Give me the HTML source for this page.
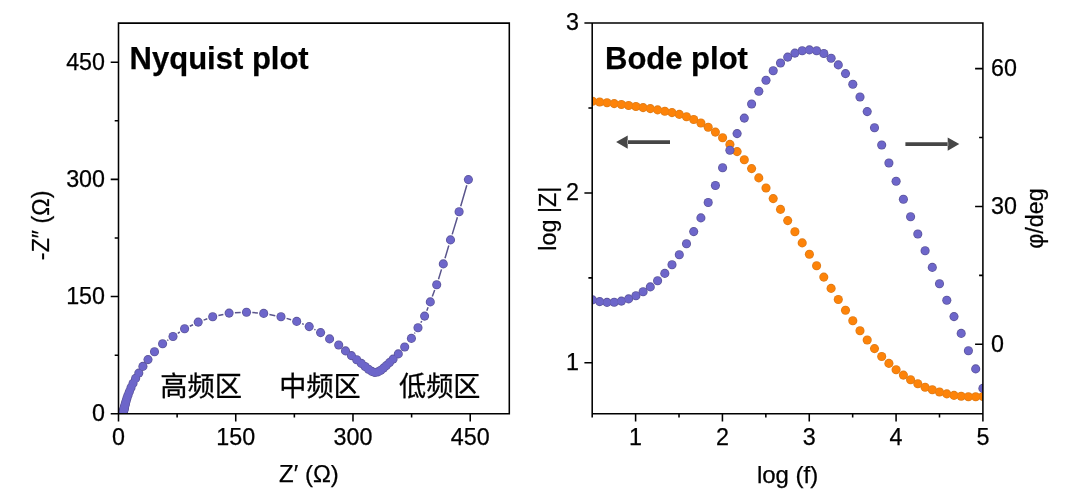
<!DOCTYPE html>
<html lang="zh"><head><meta charset="utf-8"><title>Nyquist plot / Bode plot</title>
<style>
html,body{margin:0;padding:0;background:#fff;}
body{width:1080px;height:496px;position:relative;overflow:hidden;font-family:"Liberation Sans",sans-serif;}
</style></head><body>
<svg width="1080" height="496" viewBox="0 0 1080 496" style="position:absolute;left:0;top:0;will-change:transform;filter:blur(0.35px)"><defs><clipPath id="cl"><rect x="118.5" y="23.1" width="390.8" height="390.7"/></clipPath><clipPath id="cr"><rect x="592.2" y="23.0" width="390.69999999999993" height="390.8"/></clipPath></defs><g clip-path="url(#cl)"><path d="M466.8 185.2L460.7 206.2M457.4 217.3L452.2 234.4M448.8 245.5L445.0 258.3M441.5 269.4L438.5 279.2M434.7 290.1L432.3 296.5M428.1 307.3L426.8 310.7M421.8 321.2L420.8 322.7M414.9 332.7L414.5 333.5M315.5 329.9L314.3 329.3M303.8 324.4L302.1 323.6M291.1 319.8L286.6 318.4M275.3 315.7L269.4 314.5M257.9 313.0L252.3 312.6M240.7 312.5L234.9 312.8M223.4 314.4L218.4 315.5M207.3 318.8L203.6 320.1M193.0 324.7L189.8 326.2M179.8 332.0L177.8 333.3M168.3 339.8L167.3 340.5" stroke="#5a558c" stroke-width="1.5" fill="none"/><g fill="#5d569c"><circle cx="468.4" cy="179.6" r="4.55"/><circle cx="459.1" cy="211.8" r="4.55"/><circle cx="450.5" cy="239.9" r="4.55"/><circle cx="443.3" cy="263.9" r="4.55"/><circle cx="436.7" cy="284.7" r="4.55"/><circle cx="430.3" cy="301.9" r="4.55"/><circle cx="424.6" cy="316.1" r="4.55"/><circle cx="418.0" cy="327.8" r="4.55"/><circle cx="411.4" cy="338.4" r="4.55"/><circle cx="404.7" cy="347.0" r="4.55"/><circle cx="398.3" cy="353.9" r="4.55"/><circle cx="393.1" cy="359.1" r="4.55"/><circle cx="389.5" cy="362.6" r="4.55"/><circle cx="386.3" cy="365.6" r="4.55"/><circle cx="383.5" cy="368.1" r="4.55"/><circle cx="380.8" cy="370.2" r="4.55"/><circle cx="378.0" cy="371.9" r="4.55"/><circle cx="374.9" cy="372.5" r="4.55"/><circle cx="371.8" cy="371.4" r="4.55"/><circle cx="368.5" cy="369.2" r="4.55"/><circle cx="365.1" cy="366.5" r="4.55"/><circle cx="361.3" cy="363.4" r="4.55"/><circle cx="356.7" cy="359.8" r="4.55"/><circle cx="351.4" cy="355.6" r="4.55"/><circle cx="345.5" cy="350.9" r="4.55"/><circle cx="338.7" cy="345.0" r="4.55"/><circle cx="329.6" cy="338.9" r="4.55"/><circle cx="320.6" cy="332.6" r="4.55"/><circle cx="309.2" cy="326.6" r="4.55"/><circle cx="296.7" cy="321.4" r="4.55"/><circle cx="281.0" cy="316.8" r="4.55"/><circle cx="263.7" cy="313.4" r="4.55"/><circle cx="246.5" cy="312.2" r="4.55"/><circle cx="229.1" cy="313.1" r="4.55"/><circle cx="212.7" cy="316.8" r="4.55"/><circle cx="198.2" cy="322.1" r="4.55"/><circle cx="184.6" cy="328.8" r="4.55"/><circle cx="173.0" cy="336.5" r="4.55"/><circle cx="162.6" cy="343.8" r="4.55"/><circle cx="154.5" cy="351.8" r="4.55"/><circle cx="148.0" cy="359.6" r="4.55"/><circle cx="142.9" cy="366.4" r="4.55"/><circle cx="138.8" cy="373.1" r="4.55"/><circle cx="135.6" cy="378.4" r="4.55"/><circle cx="133.0" cy="383.4" r="4.55"/><circle cx="131.0" cy="387.7" r="4.55"/><circle cx="129.4" cy="391.6" r="4.55"/><circle cx="128.1" cy="394.9" r="4.55"/><circle cx="127.1" cy="397.7" r="4.55"/><circle cx="126.4" cy="400.1" r="4.55"/><circle cx="125.7" cy="402.2" r="4.55"/><circle cx="125.3" cy="404.0" r="4.55"/><circle cx="124.9" cy="405.5" r="4.55"/><circle cx="124.6" cy="406.7" r="4.55"/><circle cx="124.3" cy="407.8" r="4.55"/><circle cx="124.1" cy="408.7" r="4.55"/><circle cx="123.9" cy="409.5" r="4.55"/><circle cx="123.8" cy="410.2" r="4.55"/><circle cx="123.6" cy="410.8" r="4.55"/><circle cx="123.5" cy="411.2" r="4.55"/><circle cx="123.4" cy="411.7" r="4.55"/><circle cx="123.3" cy="412.1" r="4.55"/><circle cx="123.2" cy="412.4" r="4.55"/><circle cx="123.2" cy="412.8" r="4.55"/><circle cx="123.1" cy="413.1" r="4.55"/><circle cx="123.1" cy="413.4" r="4.55"/><circle cx="123.0" cy="413.7" r="4.55"/><circle cx="123.0" cy="414.1" r="4.55"/><circle cx="123.0" cy="414.4" r="4.55"/></g><g fill="#6d66ca"><circle cx="468.4" cy="179.6" r="3.7"/><circle cx="459.1" cy="211.8" r="3.7"/><circle cx="450.5" cy="239.9" r="3.7"/><circle cx="443.3" cy="263.9" r="3.7"/><circle cx="436.7" cy="284.7" r="3.7"/><circle cx="430.3" cy="301.9" r="3.7"/><circle cx="424.6" cy="316.1" r="3.7"/><circle cx="418.0" cy="327.8" r="3.7"/><circle cx="411.4" cy="338.4" r="3.7"/><circle cx="404.7" cy="347.0" r="3.7"/><circle cx="398.3" cy="353.9" r="3.7"/><circle cx="393.1" cy="359.1" r="3.7"/><circle cx="389.5" cy="362.6" r="3.7"/><circle cx="386.3" cy="365.6" r="3.7"/><circle cx="383.5" cy="368.1" r="3.7"/><circle cx="380.8" cy="370.2" r="3.7"/><circle cx="378.0" cy="371.9" r="3.7"/><circle cx="374.9" cy="372.5" r="3.7"/><circle cx="371.8" cy="371.4" r="3.7"/><circle cx="368.5" cy="369.2" r="3.7"/><circle cx="365.1" cy="366.5" r="3.7"/><circle cx="361.3" cy="363.4" r="3.7"/><circle cx="356.7" cy="359.8" r="3.7"/><circle cx="351.4" cy="355.6" r="3.7"/><circle cx="345.5" cy="350.9" r="3.7"/><circle cx="338.7" cy="345.0" r="3.7"/><circle cx="329.6" cy="338.9" r="3.7"/><circle cx="320.6" cy="332.6" r="3.7"/><circle cx="309.2" cy="326.6" r="3.7"/><circle cx="296.7" cy="321.4" r="3.7"/><circle cx="281.0" cy="316.8" r="3.7"/><circle cx="263.7" cy="313.4" r="3.7"/><circle cx="246.5" cy="312.2" r="3.7"/><circle cx="229.1" cy="313.1" r="3.7"/><circle cx="212.7" cy="316.8" r="3.7"/><circle cx="198.2" cy="322.1" r="3.7"/><circle cx="184.6" cy="328.8" r="3.7"/><circle cx="173.0" cy="336.5" r="3.7"/><circle cx="162.6" cy="343.8" r="3.7"/><circle cx="154.5" cy="351.8" r="3.7"/><circle cx="148.0" cy="359.6" r="3.7"/><circle cx="142.9" cy="366.4" r="3.7"/><circle cx="138.8" cy="373.1" r="3.7"/><circle cx="135.6" cy="378.4" r="3.7"/><circle cx="133.0" cy="383.4" r="3.7"/><circle cx="131.0" cy="387.7" r="3.7"/><circle cx="129.4" cy="391.6" r="3.7"/><circle cx="128.1" cy="394.9" r="3.7"/><circle cx="127.1" cy="397.7" r="3.7"/><circle cx="126.4" cy="400.1" r="3.7"/><circle cx="125.7" cy="402.2" r="3.7"/><circle cx="125.3" cy="404.0" r="3.7"/><circle cx="124.9" cy="405.5" r="3.7"/><circle cx="124.6" cy="406.7" r="3.7"/><circle cx="124.3" cy="407.8" r="3.7"/><circle cx="124.1" cy="408.7" r="3.7"/><circle cx="123.9" cy="409.5" r="3.7"/><circle cx="123.8" cy="410.2" r="3.7"/><circle cx="123.6" cy="410.8" r="3.7"/><circle cx="123.5" cy="411.2" r="3.7"/><circle cx="123.4" cy="411.7" r="3.7"/><circle cx="123.3" cy="412.1" r="3.7"/><circle cx="123.2" cy="412.4" r="3.7"/><circle cx="123.2" cy="412.8" r="3.7"/><circle cx="123.1" cy="413.1" r="3.7"/><circle cx="123.1" cy="413.4" r="3.7"/><circle cx="123.0" cy="413.7" r="3.7"/><circle cx="123.0" cy="414.1" r="3.7"/><circle cx="123.0" cy="414.4" r="3.7"/></g></g><g clip-path="url(#cr)"><g fill="#df7c18"><circle cx="592.5" cy="101.2" r="4.55"/><circle cx="599.7" cy="102.0" r="4.55"/><circle cx="607.0" cy="102.8" r="4.55"/><circle cx="614.2" cy="103.6" r="4.55"/><circle cx="621.4" cy="104.5" r="4.55"/><circle cx="628.6" cy="105.5" r="4.55"/><circle cx="635.9" cy="106.5" r="4.55"/><circle cx="643.1" cy="107.6" r="4.55"/><circle cx="650.3" cy="108.6" r="4.55"/><circle cx="657.6" cy="109.9" r="4.55"/><circle cx="664.8" cy="111.2" r="4.55"/><circle cx="672.0" cy="112.6" r="4.55"/><circle cx="679.3" cy="114.4" r="4.55"/><circle cx="686.5" cy="116.7" r="4.55"/><circle cx="693.7" cy="119.5" r="4.55"/><circle cx="700.9" cy="123.0" r="4.55"/><circle cx="708.2" cy="127.3" r="4.55"/><circle cx="715.4" cy="132.1" r="4.55"/><circle cx="722.6" cy="137.8" r="4.55"/><circle cx="729.9" cy="144.4" r="4.55"/><circle cx="737.1" cy="151.6" r="4.55"/><circle cx="744.3" cy="159.7" r="4.55"/><circle cx="751.6" cy="168.6" r="4.55"/><circle cx="758.8" cy="177.9" r="4.55"/><circle cx="766.0" cy="188.0" r="4.55"/><circle cx="773.2" cy="198.6" r="4.55"/><circle cx="780.5" cy="209.4" r="4.55"/><circle cx="787.7" cy="220.6" r="4.55"/><circle cx="794.9" cy="231.7" r="4.55"/><circle cx="802.2" cy="242.9" r="4.55"/><circle cx="809.4" cy="254.3" r="4.55"/><circle cx="816.6" cy="265.7" r="4.55"/><circle cx="823.8" cy="277.1" r="4.55"/><circle cx="831.1" cy="288.4" r="4.55"/><circle cx="838.3" cy="299.5" r="4.55"/><circle cx="845.5" cy="310.3" r="4.55"/><circle cx="852.8" cy="320.8" r="4.55"/><circle cx="860.0" cy="330.8" r="4.55"/><circle cx="867.2" cy="340.0" r="4.55"/><circle cx="874.5" cy="348.6" r="4.55"/><circle cx="881.7" cy="356.5" r="4.55"/><circle cx="888.9" cy="363.4" r="4.55"/><circle cx="896.1" cy="369.7" r="4.55"/><circle cx="903.4" cy="375.1" r="4.55"/><circle cx="910.6" cy="379.8" r="4.55"/><circle cx="917.8" cy="383.8" r="4.55"/><circle cx="925.1" cy="387.2" r="4.55"/><circle cx="932.3" cy="389.8" r="4.55"/><circle cx="939.5" cy="392.0" r="4.55"/><circle cx="946.8" cy="393.9" r="4.55"/><circle cx="954.0" cy="395.4" r="4.55"/><circle cx="961.2" cy="396.3" r="4.55"/><circle cx="968.4" cy="396.8" r="4.55"/><circle cx="975.7" cy="396.8" r="4.55"/><circle cx="982.9" cy="396.5" r="4.55"/></g><g fill="#fd8309"><circle cx="592.5" cy="101.2" r="3.7"/><circle cx="599.7" cy="102.0" r="3.7"/><circle cx="607.0" cy="102.8" r="3.7"/><circle cx="614.2" cy="103.6" r="3.7"/><circle cx="621.4" cy="104.5" r="3.7"/><circle cx="628.6" cy="105.5" r="3.7"/><circle cx="635.9" cy="106.5" r="3.7"/><circle cx="643.1" cy="107.6" r="3.7"/><circle cx="650.3" cy="108.6" r="3.7"/><circle cx="657.6" cy="109.9" r="3.7"/><circle cx="664.8" cy="111.2" r="3.7"/><circle cx="672.0" cy="112.6" r="3.7"/><circle cx="679.3" cy="114.4" r="3.7"/><circle cx="686.5" cy="116.7" r="3.7"/><circle cx="693.7" cy="119.5" r="3.7"/><circle cx="700.9" cy="123.0" r="3.7"/><circle cx="708.2" cy="127.3" r="3.7"/><circle cx="715.4" cy="132.1" r="3.7"/><circle cx="722.6" cy="137.8" r="3.7"/><circle cx="729.9" cy="144.4" r="3.7"/><circle cx="737.1" cy="151.6" r="3.7"/><circle cx="744.3" cy="159.7" r="3.7"/><circle cx="751.6" cy="168.6" r="3.7"/><circle cx="758.8" cy="177.9" r="3.7"/><circle cx="766.0" cy="188.0" r="3.7"/><circle cx="773.2" cy="198.6" r="3.7"/><circle cx="780.5" cy="209.4" r="3.7"/><circle cx="787.7" cy="220.6" r="3.7"/><circle cx="794.9" cy="231.7" r="3.7"/><circle cx="802.2" cy="242.9" r="3.7"/><circle cx="809.4" cy="254.3" r="3.7"/><circle cx="816.6" cy="265.7" r="3.7"/><circle cx="823.8" cy="277.1" r="3.7"/><circle cx="831.1" cy="288.4" r="3.7"/><circle cx="838.3" cy="299.5" r="3.7"/><circle cx="845.5" cy="310.3" r="3.7"/><circle cx="852.8" cy="320.8" r="3.7"/><circle cx="860.0" cy="330.8" r="3.7"/><circle cx="867.2" cy="340.0" r="3.7"/><circle cx="874.5" cy="348.6" r="3.7"/><circle cx="881.7" cy="356.5" r="3.7"/><circle cx="888.9" cy="363.4" r="3.7"/><circle cx="896.1" cy="369.7" r="3.7"/><circle cx="903.4" cy="375.1" r="3.7"/><circle cx="910.6" cy="379.8" r="3.7"/><circle cx="917.8" cy="383.8" r="3.7"/><circle cx="925.1" cy="387.2" r="3.7"/><circle cx="932.3" cy="389.8" r="3.7"/><circle cx="939.5" cy="392.0" r="3.7"/><circle cx="946.8" cy="393.9" r="3.7"/><circle cx="954.0" cy="395.4" r="3.7"/><circle cx="961.2" cy="396.3" r="3.7"/><circle cx="968.4" cy="396.8" r="3.7"/><circle cx="975.7" cy="396.8" r="3.7"/><circle cx="982.9" cy="396.5" r="3.7"/></g><g fill="#5d569c"><circle cx="592.5" cy="299.9" r="4.55"/><circle cx="599.7" cy="301.6" r="4.55"/><circle cx="607.0" cy="302.4" r="4.55"/><circle cx="614.2" cy="302.3" r="4.55"/><circle cx="621.4" cy="301.1" r="4.55"/><circle cx="628.6" cy="298.9" r="4.55"/><circle cx="635.9" cy="295.8" r="4.55"/><circle cx="643.1" cy="291.8" r="4.55"/><circle cx="650.3" cy="286.9" r="4.55"/><circle cx="657.6" cy="280.8" r="4.55"/><circle cx="664.8" cy="273.4" r="4.55"/><circle cx="672.0" cy="264.7" r="4.55"/><circle cx="679.3" cy="254.8" r="4.55"/><circle cx="686.5" cy="243.8" r="4.55"/><circle cx="693.7" cy="231.6" r="4.55"/><circle cx="700.9" cy="217.9" r="4.55"/><circle cx="708.2" cy="202.5" r="4.55"/><circle cx="715.4" cy="185.5" r="4.55"/><circle cx="722.6" cy="167.8" r="4.55"/><circle cx="729.9" cy="150.3" r="4.55"/><circle cx="737.1" cy="133.6" r="4.55"/><circle cx="744.3" cy="118.1" r="4.55"/><circle cx="751.6" cy="104.0" r="4.55"/><circle cx="758.8" cy="91.3" r="4.55"/><circle cx="766.0" cy="80.2" r="4.55"/><circle cx="773.2" cy="70.8" r="4.55"/><circle cx="780.5" cy="63.0" r="4.55"/><circle cx="787.7" cy="57.1" r="4.55"/><circle cx="794.9" cy="53.1" r="4.55"/><circle cx="802.2" cy="50.7" r="4.55"/><circle cx="809.4" cy="49.9" r="4.55"/><circle cx="816.6" cy="50.8" r="4.55"/><circle cx="823.8" cy="53.5" r="4.55"/><circle cx="831.1" cy="58.2" r="4.55"/><circle cx="838.3" cy="64.9" r="4.55"/><circle cx="845.5" cy="73.6" r="4.55"/><circle cx="852.8" cy="84.3" r="4.55"/><circle cx="860.0" cy="97.0" r="4.55"/><circle cx="867.2" cy="111.6" r="4.55"/><circle cx="874.5" cy="127.7" r="4.55"/><circle cx="881.7" cy="145.0" r="4.55"/><circle cx="888.9" cy="163.0" r="4.55"/><circle cx="896.1" cy="181.3" r="4.55"/><circle cx="903.4" cy="199.3" r="4.55"/><circle cx="910.6" cy="216.8" r="4.55"/><circle cx="917.8" cy="234.0" r="4.55"/><circle cx="925.1" cy="250.8" r="4.55"/><circle cx="932.3" cy="267.4" r="4.55"/><circle cx="939.5" cy="283.8" r="4.55"/><circle cx="946.8" cy="300.2" r="4.55"/><circle cx="954.0" cy="316.6" r="4.55"/><circle cx="961.2" cy="333.4" r="4.55"/><circle cx="968.4" cy="350.7" r="4.55"/><circle cx="975.7" cy="368.9" r="4.55"/><circle cx="982.9" cy="388.4" r="4.55"/></g><g fill="#6d66ca"><circle cx="592.5" cy="299.9" r="3.7"/><circle cx="599.7" cy="301.6" r="3.7"/><circle cx="607.0" cy="302.4" r="3.7"/><circle cx="614.2" cy="302.3" r="3.7"/><circle cx="621.4" cy="301.1" r="3.7"/><circle cx="628.6" cy="298.9" r="3.7"/><circle cx="635.9" cy="295.8" r="3.7"/><circle cx="643.1" cy="291.8" r="3.7"/><circle cx="650.3" cy="286.9" r="3.7"/><circle cx="657.6" cy="280.8" r="3.7"/><circle cx="664.8" cy="273.4" r="3.7"/><circle cx="672.0" cy="264.7" r="3.7"/><circle cx="679.3" cy="254.8" r="3.7"/><circle cx="686.5" cy="243.8" r="3.7"/><circle cx="693.7" cy="231.6" r="3.7"/><circle cx="700.9" cy="217.9" r="3.7"/><circle cx="708.2" cy="202.5" r="3.7"/><circle cx="715.4" cy="185.5" r="3.7"/><circle cx="722.6" cy="167.8" r="3.7"/><circle cx="729.9" cy="150.3" r="3.7"/><circle cx="737.1" cy="133.6" r="3.7"/><circle cx="744.3" cy="118.1" r="3.7"/><circle cx="751.6" cy="104.0" r="3.7"/><circle cx="758.8" cy="91.3" r="3.7"/><circle cx="766.0" cy="80.2" r="3.7"/><circle cx="773.2" cy="70.8" r="3.7"/><circle cx="780.5" cy="63.0" r="3.7"/><circle cx="787.7" cy="57.1" r="3.7"/><circle cx="794.9" cy="53.1" r="3.7"/><circle cx="802.2" cy="50.7" r="3.7"/><circle cx="809.4" cy="49.9" r="3.7"/><circle cx="816.6" cy="50.8" r="3.7"/><circle cx="823.8" cy="53.5" r="3.7"/><circle cx="831.1" cy="58.2" r="3.7"/><circle cx="838.3" cy="64.9" r="3.7"/><circle cx="845.5" cy="73.6" r="3.7"/><circle cx="852.8" cy="84.3" r="3.7"/><circle cx="860.0" cy="97.0" r="3.7"/><circle cx="867.2" cy="111.6" r="3.7"/><circle cx="874.5" cy="127.7" r="3.7"/><circle cx="881.7" cy="145.0" r="3.7"/><circle cx="888.9" cy="163.0" r="3.7"/><circle cx="896.1" cy="181.3" r="3.7"/><circle cx="903.4" cy="199.3" r="3.7"/><circle cx="910.6" cy="216.8" r="3.7"/><circle cx="917.8" cy="234.0" r="3.7"/><circle cx="925.1" cy="250.8" r="3.7"/><circle cx="932.3" cy="267.4" r="3.7"/><circle cx="939.5" cy="283.8" r="3.7"/><circle cx="946.8" cy="300.2" r="3.7"/><circle cx="954.0" cy="316.6" r="3.7"/><circle cx="961.2" cy="333.4" r="3.7"/><circle cx="968.4" cy="350.7" r="3.7"/><circle cx="975.7" cy="368.9" r="3.7"/><circle cx="982.9" cy="388.4" r="3.7"/></g></g><path d="M118.5 23.1H509.3V413.8H118.5ZM592.2 23.0H982.9V413.8H592.2ZM118.50 413.8v7.8M118.5 413.80h-7.8M235.74 413.8v7.8M118.5 296.59h-7.8M352.98 413.8v7.8M118.5 179.38h-7.8M470.22 413.8v7.8M118.5 62.17h-7.8M177.12 413.8v3.8M118.5 355.19h-3.8M294.36 413.8v3.8M118.5 237.99h-3.8M411.60 413.8v3.8M118.5 120.78h-3.8M635.61 413.8v7.8M722.43 413.8v7.8M809.26 413.8v7.8M896.08 413.8v7.8M982.90 413.8v7.8M592.20 413.8v3.8M679.02 413.8v3.8M765.84 413.8v3.8M852.67 413.8v3.8M939.49 413.8v3.8M592.2 362.80h-7.8M592.2 192.90h-7.8M592.2 23.00h-7.8M592.2 277.85h-3.8M592.2 107.95h-3.8M982.9 344.30h-7.8M982.9 206.45h-7.8M982.9 68.60h-7.8M982.9 275.38h-3.8M982.9 137.53h-3.8" stroke="#000" stroke-width="1.55" fill="none" stroke-linecap="butt"/><path fill="#464646" d="M670 140.15H627.2V144.04999999999998H670Z M616.1 142.1L627.7 135.5L627.7 148.7Z"/><path fill="#464646" d="M905.4 142.15H948.1999999999999V146.04999999999998H905.4Z M959.3 144.1L947.6999999999999 137.5L947.6999999999999 150.7Z"/><text x="160.2" y="396.1" font-size="27.3" fill="#000" stroke="#000" stroke-width="0.3" font-family="'Liberation Sans', 'Noto Sans CJK SC', sans-serif">高频区</text><text x="279.3" y="396.0" font-size="27.1" fill="#000" stroke="#000" stroke-width="0.3" font-family="'Liberation Sans', 'Noto Sans CJK SC', sans-serif">中频区</text><text x="399.1" y="395.9" font-size="27.1" fill="#000" stroke="#000" stroke-width="0.3" font-family="'Liberation Sans', 'Noto Sans CJK SC', sans-serif">低频区</text><g font-family="'Liberation Sans', sans-serif" fill="#000" stroke="#000" stroke-width="0.25"><text x="118.5" y="445.2" text-anchor="middle" font-size="23.3" font-weight="normal">0</text><text x="105.0" y="421.1" text-anchor="end" font-size="23.3" font-weight="normal">0</text><text x="235.7" y="445.2" text-anchor="middle" font-size="23.3" font-weight="normal">150</text><text x="105.0" y="303.9" text-anchor="end" font-size="23.3" font-weight="normal">150</text><text x="353.0" y="445.2" text-anchor="middle" font-size="23.3" font-weight="normal">300</text><text x="105.0" y="186.7" text-anchor="end" font-size="23.3" font-weight="normal">300</text><text x="470.2" y="445.2" text-anchor="middle" font-size="23.3" font-weight="normal">450</text><text x="105.0" y="69.5" text-anchor="end" font-size="23.3" font-weight="normal">450</text><text x="635.6" y="444.7" text-anchor="middle" font-size="23.3" font-weight="normal">1</text><text x="722.4" y="444.7" text-anchor="middle" font-size="23.3" font-weight="normal">2</text><text x="809.3" y="444.7" text-anchor="middle" font-size="23.3" font-weight="normal">3</text><text x="896.1" y="444.7" text-anchor="middle" font-size="23.3" font-weight="normal">4</text><text x="982.9" y="444.7" text-anchor="middle" font-size="23.3" font-weight="normal">5</text><text x="579.0" y="370.1" text-anchor="end" font-size="23.3" font-weight="normal">1</text><text x="579.0" y="200.2" text-anchor="end" font-size="23.3" font-weight="normal">2</text><text x="579.0" y="30.3" text-anchor="end" font-size="23.3" font-weight="normal">3</text><text x="991.0" y="351.9" text-anchor="start" font-size="23.3" font-weight="normal">0</text><text x="991.0" y="214.1" text-anchor="start" font-size="23.3" font-weight="normal">30</text><text x="991.0" y="76.2" text-anchor="start" font-size="23.3" font-weight="normal">60</text><text x="309" y="482.3" text-anchor="middle" font-size="24" font-weight="normal">Z′ (Ω)</text><text x="787.6" y="482.5" text-anchor="middle" font-size="24" font-weight="normal">log (f)</text><text x="48.8" y="225.3" text-anchor="middle" font-size="23.3" font-weight="normal" transform="rotate(-90 48.8 225.3)">-Z″ (Ω)</text><text x="556.3" y="218.7" text-anchor="middle" font-size="23.3" font-weight="normal" transform="rotate(-90 556.3 218.7)">log |Z|</text><text x="1043.3" y="218.5" text-anchor="middle" font-size="23.3" font-weight="normal" transform="rotate(-90 1043.3 218.5)">φ/deg</text><text x="129.6" y="69.2" text-anchor="start" font-size="31" font-weight="bold">Nyquist plot</text><text x="605.0" y="69.2" text-anchor="start" font-size="31" font-weight="bold">Bode plot</text></g></svg>
</body></html>
